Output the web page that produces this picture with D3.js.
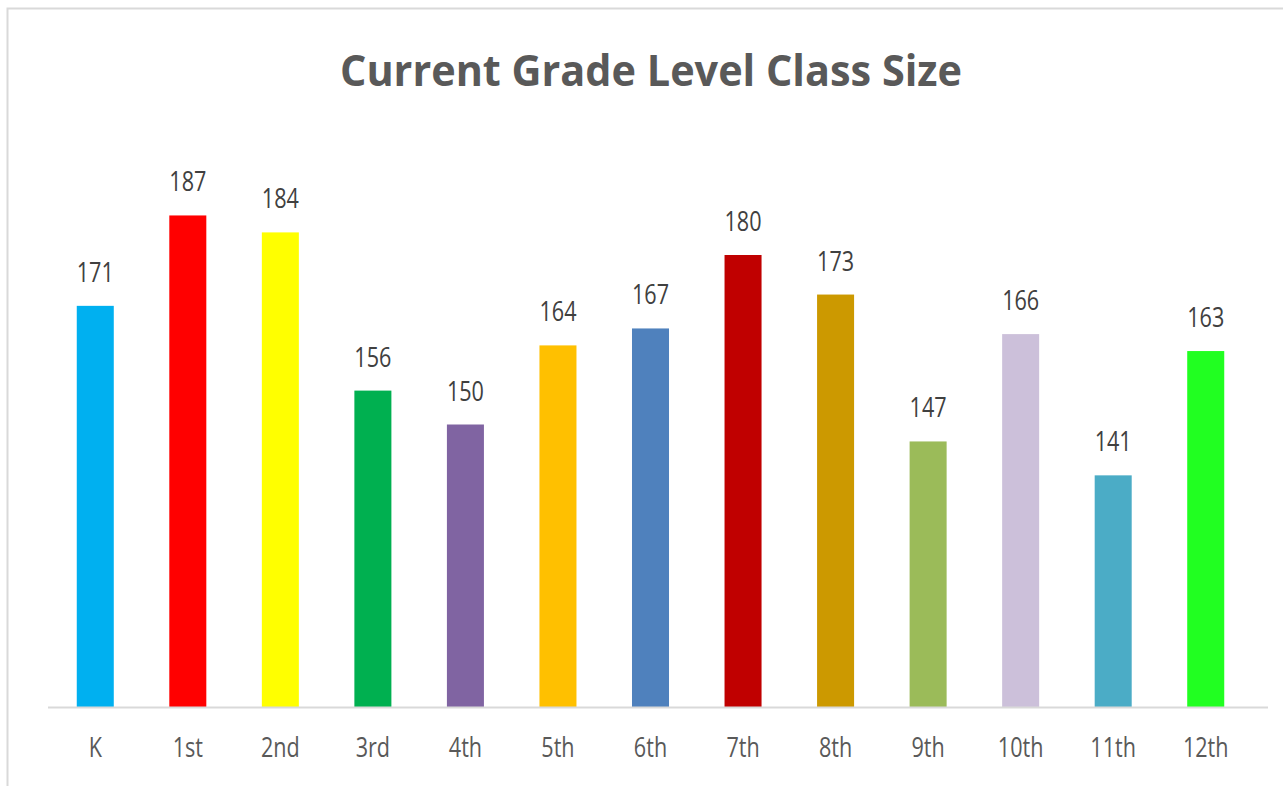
<!DOCTYPE html>
<html>
<head>
<meta charset="utf-8">
<script src="https://cdn.jsdelivr.net/npm/d3@7"></script>
<style>
  body { margin: 0; background: #fff; }
  svg { display: block; }
</style>
</head>
<body>
<svg width="1283" height="786"></svg>
<script>
const grades = ['K', '1st', '2nd', '3rd', '4th', '5th', '6th', '7th', '8th', '9th', '10th', '11th', '12th'];
const classSize = [171, 187, 184, 156, 150, 164, 167, 180, 173, 147, 166, 141, 163];
const barColors = ['#00B0F0', '#FF0000', '#FFFF00', '#00B050', '#8064A2', '#FFC000', '#4F81BD',
  '#C00000', '#CC9900', '#9BBB59', '#CCC0DA', '#4BACC6', '#21FF21'];

const svg = d3.select('svg');
const width = +svg.attr('width');
const height = +svg.attr('height');

// chart frame (only top and left edges show in the picture)
svg.append('path')
  .attr('d', `M7.5,${height} V8.5 H${width}`)
  .attr('fill', 'none')
  .attr('stroke', '#d9d9d9')
  .attr('stroke-width', 2);

const data = grades.map((g, i) => ({ grade: g, size: classSize[i], color: barColors[i] }));

const xScale = d3.scaleBand()
  .domain(grades)
  .range([49, 1252])
  .paddingInner(0.6)
  .paddingOuter(0.3);

const yScale = d3.scaleLinear()
  .domain([100, 200])
  .range([707, 142]);

svg.append('text')
  .attr('x', 651)
  .attr('y', 86)
  .attr('text-anchor', 'middle')
  .attr('font-family', 'Open Sans')
  .attr('font-weight', 'bold')
  .attr('font-size', 43)
  .attr('fill', '#595959')
  .attr('textLength', 622)
  .attr('lengthAdjust', 'spacingAndGlyphs')
  .text('Current Grade Level Class Size');

svg.selectAll('rect.bar').data(data)
  .enter().append('rect')
  .attr('class', 'bar')
  .attr('x', d => xScale(d.grade))
  .attr('y', d => yScale(d.size))
  .attr('width', xScale.bandwidth())
  .attr('height', d => yScale(100) - yScale(d.size))
  .attr('fill', d => d.color);

// value labels
svg.selectAll('g.lbl').data(data)
  .enter().append('g')
  .attr('class', 'lbl')
  .attr('transform', d => `translate(${xScale(d.grade) + xScale.bandwidth() / 2},${yScale(d.size) - 24})`)
  .append('text')
  .attr('text-anchor', 'middle')
  .attr('transform', 'scale(0.8,1)')
  .attr('font-family', 'Open Sans')
  .attr('font-size', 27)
  .attr('fill', '#404040')
  .text(d => d.size);

const xAxisG = svg.append('g')
  .attr('transform', `translate(0,${yScale(100)})`)
  .call(d3.axisBottom(xScale).tickSize(0).tickPadding(0));

xAxisG.select('.domain').remove();
xAxisG.append('line')
  .attr('x1', 48).attr('x2', 1268)
  .attr('y1', 0.5).attr('y2', 0.5)
  .attr('stroke', '#d9d9d9')
  .attr('stroke-width', 2);

xAxisG.selectAll('.tick text')
  .attr('y', 50)
  .attr('dy', null)
  .attr('transform', 'scale(0.8,1)')
  .attr('font-family', 'Open Sans')
  .attr('font-size', 27)
  .attr('fill', '#595959');
</script>
</body>
</html>
